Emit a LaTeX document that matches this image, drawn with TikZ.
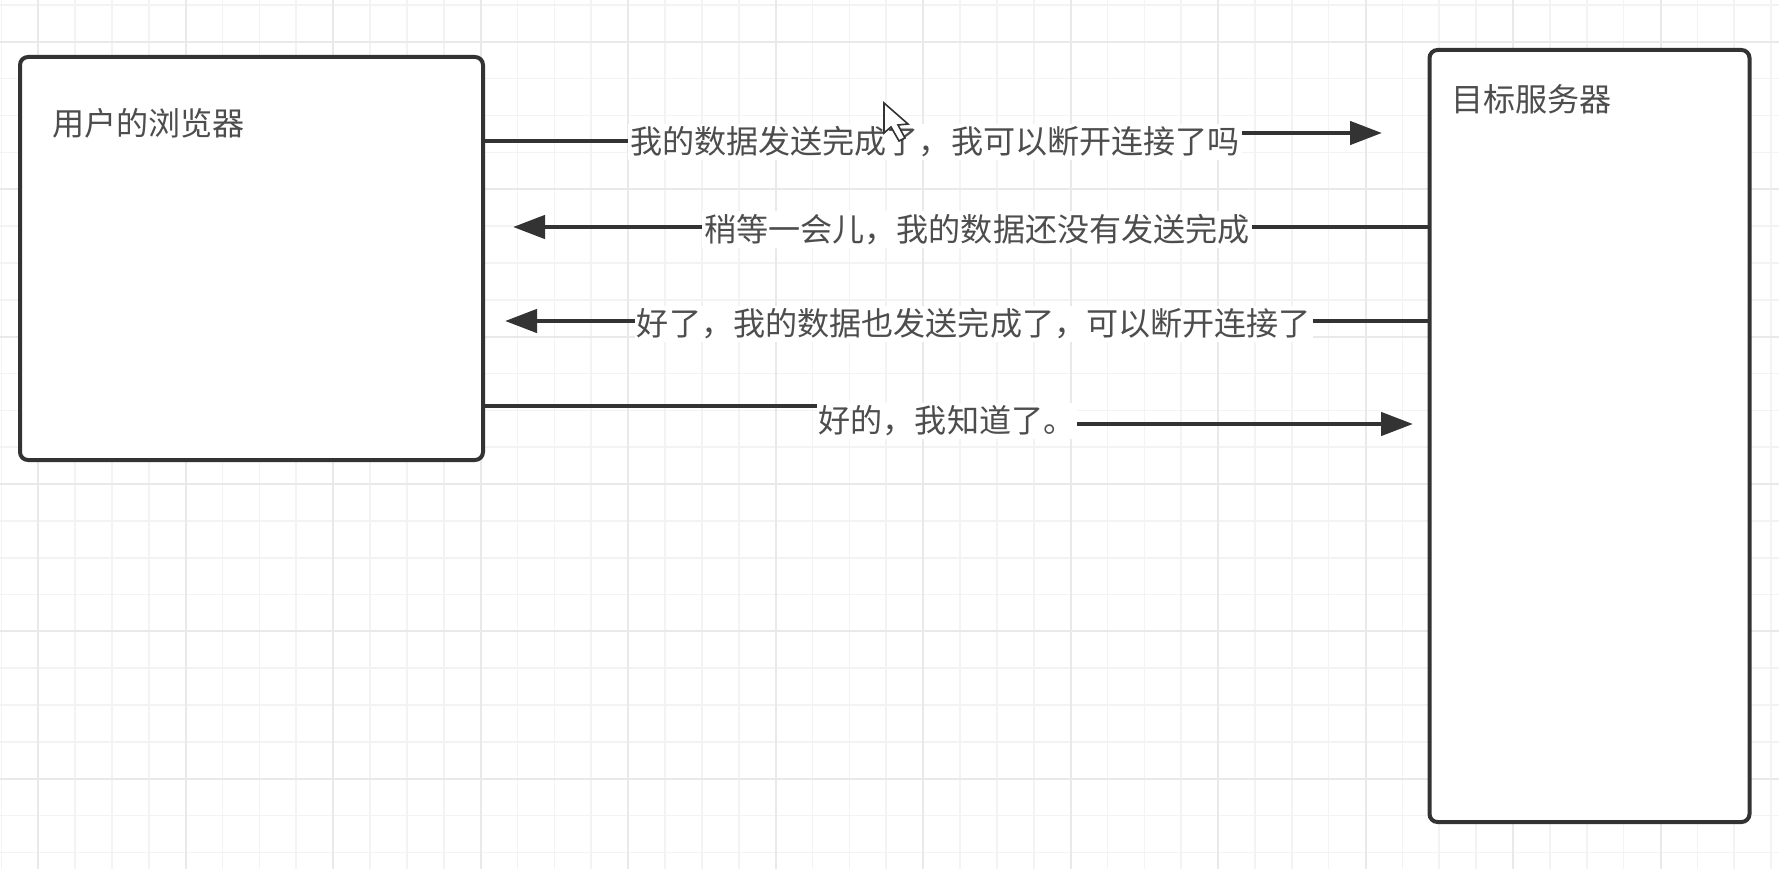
\documentclass[tikz,border=0pt]{standalone}
\usepackage{fontspec}
\setmainfont{Noto Sans CJK SC}
\usetikzlibrary{arrows.meta,calc}
\definecolor{ink}{HTML}{333333}
\definecolor{textink}{HTML}{4D4D4D}
\definecolor{gridmajor}{HTML}{E9E9E9}
\definecolor{gridminor}{HTML}{F3F3F3}
\tikzset{
  panel/.style={draw=ink,line width=4pt,fill=white,rounded corners=8pt,inner sep=0pt,outer sep=0pt},
  caption/.style={font=\fontsize{32.1pt}{36pt}\selectfont,text=textink,inner sep=0pt,outer sep=0pt,anchor=west},
  msg/.style={font=\fontsize{32.1pt}{36pt}\selectfont,text=textink,fill=white,inner xsep=2pt,inner ysep=3pt,outer sep=0pt},
  wire/.style={draw=ink,line width=4.6pt},
  flow/.style={wire,-{Triangle[length=32pt,width=23pt]}},
}
\begin{document}
\begin{tikzpicture}[x=1pt,y=-1pt]
\useasboundingbox (0,0) rectangle (1779,869);
\fill[white] (0,0) rectangle (1779,869);

% drawing-canvas grid: fine lines every 36.85, heavier every fourth
\foreach \k in {-1,...,47} {
  \draw[gridminor,line width=1.6pt] ({38.2+36.87*\k},0) -- ({38.2+36.87*\k},869);
}
\foreach \k in {-1,...,23} {
  \draw[gridminor,line width=1.6pt] (0,{41.8+36.85*\k}) -- (1779,{41.8+36.85*\k});
}
\foreach \k in {0,...,11} {
  \draw[gridmajor,line width=2pt] ({38.2+147.48*\k},0) -- ({38.2+147.48*\k},869);
}
\foreach \k in {0,...,5} {
  \draw[gridmajor,line width=2pt] (0,{41.8+147.4*\k}) -- (1779,{41.8+147.4*\k});
}

% the two endpoints of the conversation
\node[panel,minimum width=463pt,minimum height=403pt] (browser) at (251.5,258.5) {};
\node[panel,minimum width=320pt,minimum height=772pt] (server) at (1589.5,436) {};
\node[caption] (browserlabel) at (52,123) {用户的浏览器};
\node[caption] (serverlabel) at (1451,99) {目标服务器};

% message labels, each sitting on a break in its connector
\node[msg] (m1) at (935,142) {我的数据发送完成了，我可以断开连接了吗};
\node[msg] (m2) at (977,229.5) {稍等一会儿，我的数据还没有发送完成};
\node[msg] (m3) at (974,324) {好了，我的数据也发送完成了，可以断开连接了};
\node[msg] (m4) at (947,421) {好的，我知道了。};

% free ends of the arrows
\coordinate (t1) at (1382,133);
\coordinate (t2) at (513,227);
\coordinate (t3) at (505,321);
\coordinate (t4) at (1413,424);

% message 1
\draw[wire] (browser.east |- 0,141) -- (m1.west |- 0,141);
\draw[flow] (m1.east |- t1) -- (t1);
% message 2
\draw[wire] (server.west |- t2) -- (m2.east |- t2);
\draw[flow] (m2.west |- t2) -- (t2);
% message 3
\draw[wire] (server.west |- t3) -- (m3.east |- t3);
\draw[flow] (m3.west |- t3) -- (t3);
% message 4
\draw[wire] (browser.east |- 0,406) -- (m4.west |- 0,406);
\draw[flow] (m4.east |- t4) -- (t4);

% pointer arrow resting on the first message
\draw[draw=black!80,line width=1.6pt,fill=white,line join=miter]
  (884,103) -- (884,133) -- (891,127) -- (899,141) -- (905,138) -- (898,125) -- (908,124) -- cycle;
\end{tikzpicture}
\end{document}
